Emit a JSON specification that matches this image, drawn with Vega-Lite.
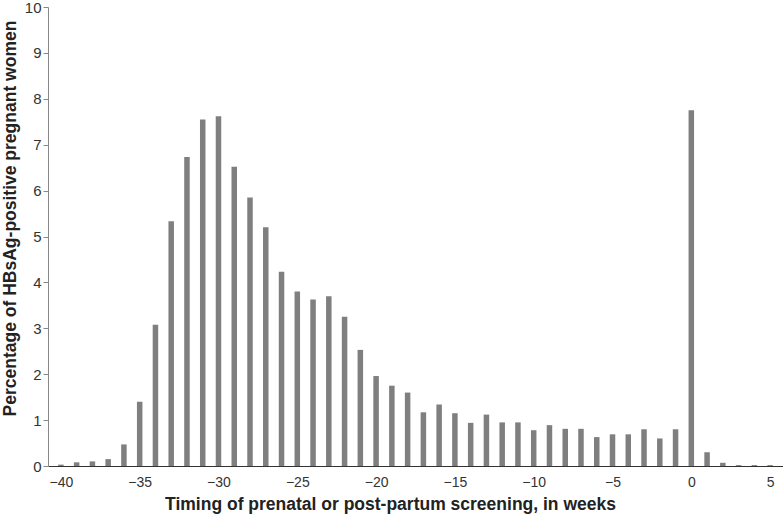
{
  "$schema": "https://vega.github.io/schema/vega-lite/v6.json",
  "width": 735,
  "height": 459,
  "autosize": {"type": "none"},
  "padding": {"left": 48, "top": 7, "right": 0, "bottom": 48},
  "background": "white",
  "config": {"view": {"stroke": null}, "font": "Liberation Sans"},
  "data": {
    "values": [
      {"week": -40, "pct": 0.03}, {"week": -39, "pct": 0.08}, {"week": -38, "pct": 0.1},
      {"week": -37, "pct": 0.15}, {"week": -36, "pct": 0.47}, {"week": -35, "pct": 1.4},
      {"week": -34, "pct": 3.08}, {"week": -33, "pct": 5.33}, {"week": -32, "pct": 6.73},
      {"week": -31, "pct": 7.55}, {"week": -30, "pct": 7.62}, {"week": -29, "pct": 6.52},
      {"week": -28, "pct": 5.85}, {"week": -27, "pct": 5.2}, {"week": -26, "pct": 4.23},
      {"week": -25, "pct": 3.8}, {"week": -24, "pct": 3.63}, {"week": -23, "pct": 3.7},
      {"week": -22, "pct": 3.25}, {"week": -21, "pct": 2.53}, {"week": -20, "pct": 1.96},
      {"week": -19, "pct": 1.75}, {"week": -18, "pct": 1.6}, {"week": -17, "pct": 1.17},
      {"week": -16, "pct": 1.34}, {"week": -15, "pct": 1.15}, {"week": -14, "pct": 0.94},
      {"week": -13, "pct": 1.12}, {"week": -12, "pct": 0.95}, {"week": -11, "pct": 0.95},
      {"week": -10, "pct": 0.78}, {"week": -9, "pct": 0.89}, {"week": -8, "pct": 0.81},
      {"week": -7, "pct": 0.81}, {"week": -6, "pct": 0.63}, {"week": -5, "pct": 0.69},
      {"week": -4, "pct": 0.69}, {"week": -3, "pct": 0.8}, {"week": -2, "pct": 0.6},
      {"week": -1, "pct": 0.8}, {"week": 0, "pct": 7.75}, {"week": 1, "pct": 0.3},
      {"week": 2, "pct": 0.07}, {"week": 3, "pct": 0.02}, {"week": 4, "pct": 0.02},
      {"week": 5, "pct": 0.02}
    ]
  },
  "mark": {"type": "bar", "size": 5.5, "color": "#7f7f7f"},
  "encoding": {
    "x": {
      "field": "week",
      "type": "quantitative",
      "scale": {"domain": [-40.5, 5.5], "nice": false, "zero": false},
      "axis": {
        "values": [-40, -35, -30, -25, -20, -15, -10, -5, 0, 5],
        "title": "Timing of prenatal or post-partum screening, in weeks",
        "titleFont": "Liberation Sans",
        "titleFontSize": 17.5,
        "titleFontWeight": "bold",
        "titleColor": "#222",
        "titlePadding": 6,
        "titleX": 342,
        "labelFontSize": 14,
        "labelColor": "#333",
        "labelPadding": 9,
        "ticks": false,
        "grid": false,
        "domainColor": "#333",
        "labelFlush": false
      }
    },
    "y": {
      "field": "pct",
      "type": "quantitative",
      "scale": {"domain": [0, 10], "nice": false},
      "axis": {
        "values": [0, 1, 2, 3, 4, 5, 6, 7, 8, 9, 10],
        "title": "Percentage of HBsAg-positive pregnant women",
        "titleFont": "Liberation Sans",
        "titleFontSize": 17.5,
        "titleFontWeight": "bold",
        "titleColor": "#222",
        "titlePadding": 5,
        "titleY": 211,
        "labelFontSize": 15,
        "labelColor": "#333",
        "labelPadding": 2,
        "tickSize": 5,
        "tickColor": "#888",
        "domainColor": "#888",
        "grid": false
      }
    }
  }
}
